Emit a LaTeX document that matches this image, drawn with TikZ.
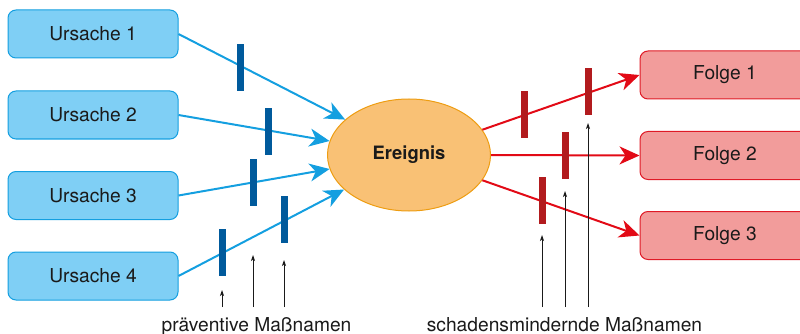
\documentclass[tikz,border=0pt]{standalone}
\usepackage{fontspec}
\setmainfont{TeX Gyre Heros}
\usetikzlibrary{arrows.meta,shapes.geometric}
\definecolor{boxblue}{HTML}{7FCFF5}
\definecolor{lineblue}{HTML}{149FE0}
\definecolor{barblue}{HTML}{005A9C}
\definecolor{evfill}{HTML}{F9C175}
\definecolor{evdraw}{HTML}{EE9D12}
\definecolor{linered}{HTML}{E20A16}
\definecolor{barred}{HTML}{B21B1E}
\definecolor{boxred}{HTML}{F29C9B}
\definecolor{boxreddraw}{HTML}{DF1A26}
\definecolor{txt}{HTML}{1A1A1A}
\begin{document}
\begin{tikzpicture}[x=1pt,y=-1pt,
  font=\fontsize{19.2}{23}\selectfont, text=txt,
  causebox/.style={draw=lineblue, fill=boxblue, rounded corners=8pt, minimum width=170pt, minimum height=48pt, line width=1pt, inner sep=0pt},
  effectbox/.style={draw=boxreddraw, fill=boxred, rounded corners=8pt, minimum width=170pt, minimum height=48pt, line width=1pt, inner sep=0pt},
  eventnode/.style={ellipse, draw=evdraw, fill=evfill, line width=1pt, minimum width=163pt, minimum height=112pt, inner sep=0pt, font=\fontsize{18.4}{22}\selectfont\bfseries},
  bluearrow/.style={draw=lineblue, line width=2pt, -{Stealth[length=20pt,width=18pt,inset=6pt]}},
  redarrow/.style={draw=linered, line width=2pt, -{Stealth[length=20pt,width=18pt,inset=6pt]}},
  bluebar/.style={fill=barblue, draw=none, minimum width=7pt, minimum height=47pt, inner sep=0pt},
  redbar/.style={fill=barred, draw=none, minimum width=7pt, minimum height=47pt, inner sep=0pt},
  pointer/.style={draw=txt, line width=0.8pt, -{Stealth[length=6pt,width=4pt,inset=1.5pt]}}
]
\useasboundingbox (0,0) rectangle (800,334);

% cause boxes
\node[causebox] (u1) at (93,34) {Ursache 1};
\node[causebox] (u2) at (93,115) {Ursache 2};
\node[causebox] (u3) at (93,195.5) {Ursache 3};
\node[causebox] (u4) at (93,276) {Ursache 4};

% event
\node[eventnode] (ev) at (409,155) {Ereignis};

% effect boxes
\node[effectbox] (f1) at (725,75) {Folge 1};
\node[effectbox] (f2) at (725,155.5) {Folge 2};
\node[effectbox] (f3) at (725,235.5) {Folge 3};

% connectors
\draw[bluearrow] (u1.east) -- (ev.151);
\draw[bluearrow] (u2.east) -- (ev.170);
\draw[bluearrow] (u3.east) -- (ev.190);
\draw[bluearrow] (u4.east) -- (ev.208);

\draw[redarrow] (ev.19.4) -- (f1.west);
\draw[redarrow] (ev.0) -- (f2.west);
\draw[redarrow] (ev.-19.4) -- (f3.west);

% barriers
\node[bluebar] (b1) at (240,67.5) {};
\node[bluebar] (b2) at (268.5,131.5) {};
\node[bluebar] (b3) at (253.5,182.5) {};
\node[bluebar] (b4) at (284.5,219.5) {};
\node[bluebar] (b5) at (222.5,252.5) {};

\node[redbar] (r1) at (524,114.5) {};
\node[redbar] (r2) at (588,91.5) {};
\node[redbar] (r3) at (565,155.5) {};
\node[redbar] (r4) at (542.5,200.5) {};

% pointers
\coordinate (ps1) at (222,307); \coordinate (pe1) at (222,290);
\coordinate (ps2) at (253,307); \coordinate (pe2) at (253,255);
\coordinate (ps3) at (284,307); \coordinate (pe3) at (284,260);
\draw[pointer] (ps1) -- (pe1);
\draw[pointer] (ps2) -- (pe2);
\draw[pointer] (ps3) -- (pe3);

\coordinate (qs1) at (542,307); \coordinate (qe1) at (542,235);
\coordinate (qs2) at (565,307); \coordinate (qe2) at (565,191);
\coordinate (qs3) at (588,307); \coordinate (qe3) at (588,123);
\draw[pointer] (qs1) -- (qe1);
\draw[pointer] (qs2) -- (qe2);
\draw[pointer] (qs3) -- (qe3);

% labels
\node[anchor=base, inner sep=0pt] (lp) at (256.5,331.5) {präventive Maßnamen};
\node[anchor=base, inner sep=0pt] (ls) at (564.5,331.5) {schadensmindernde Maßnamen};
\end{tikzpicture}
\end{document}
